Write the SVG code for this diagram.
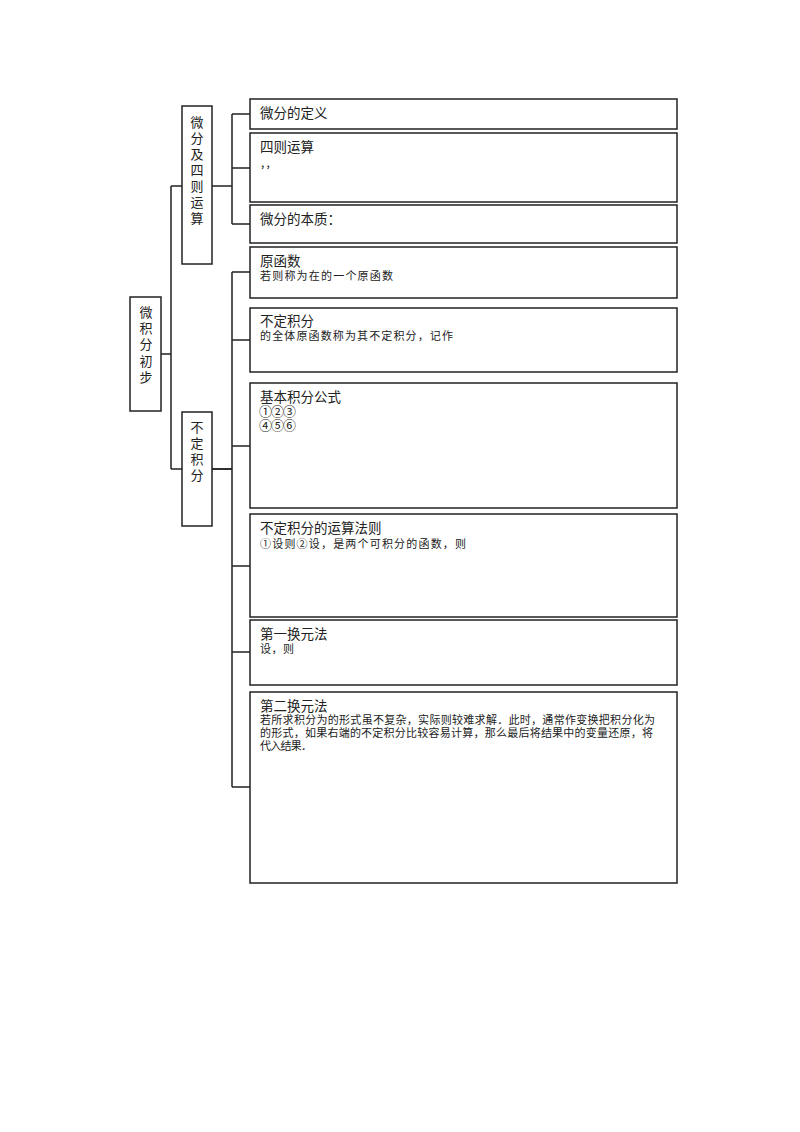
<svg xmlns="http://www.w3.org/2000/svg" width="800" height="1132" viewBox="0 0 800 1132">
<style>
.box{fill:#fff;stroke:#222;stroke-width:1.5}
.ln{fill:none;stroke:#222;stroke-width:1.5}
text{font-family:"Noto Sans CJK SC","Noto Sans",sans-serif;fill:#222}
.t{font-size:13.5px}
.s{font-size:11px}
.c{font-size:13px;letter-spacing:-1px}
.v{font-size:13px;text-anchor:middle}
</style>
<rect width="800" height="1132" fill="#fff"/>
<g id="connectors">
<path class="ln" d="M161,354H171M171,186V469M171,186H182M171,469H182"/>
<path class="ln" d="M212,186H232M232,114V224M232,114H250M232,168H250M232,224H250"/>
<path class="ln" d="M212,469H232M232,272V787M232,272H250M232,340H250M232,446H250M232,566H250M232,652H250M232,787H250"/>
<path class="ln" d="M212,469H232" stroke-width="2.5"/>
</g>
<g id="root">
<rect class="box" x="130" y="297" width="31" height="114"/>
<text class="v" x="146" y="317">微</text>
<text class="v" x="146" y="333">积</text>
<text class="v" x="146" y="349">分</text>
<text class="v" x="146" y="366">初</text>
<text class="v" x="146" y="382">步</text>
</g>
<g id="diff">
<rect class="box" x="182" y="106" width="30" height="158"/>
<text class="v" x="197" y="127">微</text>
<text class="v" x="197" y="143">分</text>
<text class="v" x="197" y="159">及</text>
<text class="v" x="197" y="175">四</text>
<text class="v" x="197" y="191">则</text>
<text class="v" x="197" y="207">运</text>
<text class="v" x="197" y="223">算</text>
</g>
<g id="integ">
<rect class="box" x="182" y="412" width="30" height="114"/>
<text class="v" x="197" y="432">不</text>
<text class="v" x="197" y="448">定</text>
<text class="v" x="197" y="464">积</text>
<text class="v" x="197" y="480">分</text>
</g>
<g id="n1">
<rect class="box" x="250" y="99" width="427" height="30"/>
<text class="t" x="260" y="118">微分的定义</text>
</g>
<g id="n2">
<rect class="box" x="250" y="133" width="427" height="69"/>
<text class="t" x="260" y="152">四则运算</text>
<text class="s" x="260" y="168">，，</text>
</g>
<g id="n3">
<rect class="box" x="250" y="205" width="427" height="38"/>
<text class="t" x="260" y="224">微分的本质：</text>
</g>
<g id="n4">
<rect class="box" x="250" y="247" width="427" height="51"/>
<text class="t" x="260" y="266">原函数</text>
<text class="s" x="260" y="280" textLength="133">若则称为在的一个原函数</text>
</g>
<g id="n5">
<rect class="box" x="250" y="308" width="427" height="64"/>
<text class="t" x="260" y="326">不定积分</text>
<text class="s" x="260" y="340" textLength="193">的全体原函数称为其不定积分，记作</text>
</g>
<g id="n6">
<rect class="box" x="250" y="383" width="427" height="125"/>
<text class="t" x="260" y="402">基本积分公式</text>
<text class="c" x="259" y="416">①②③</text>
<text class="c" x="259" y="430">④⑤⑥</text>
</g>
<g id="n7">
<rect class="box" x="250" y="514" width="427" height="103"/>
<text class="t" x="260" y="533">不定积分的运算法则</text>
<text class="s" x="260" y="548" textLength="206">①设则②设，是两个可积分的函数，则</text>
</g>
<g id="n8">
<rect class="box" x="250" y="620" width="427" height="65"/>
<text class="t" x="260" y="639">第一换元法</text>
<text class="s" x="260" y="653" textLength="34">设，则</text>
</g>
<g id="n9">
<rect class="box" x="250" y="692" width="427" height="191"/>
<text class="t" x="260" y="711">第二换元法</text>
<text class="s" x="260" y="724" textLength="395">若所求积分为的形式虽不复杂，实际则较难求解．此时，通常作变换把积分化为</text>
<text class="s" x="260" y="737" textLength="393">的形式，如果右端的不定积分比较容易计算，那么最后将结果中的变量还原，将</text>
<text class="s" x="260" y="750" textLength="52">代入结果．</text>
</g>
</svg>
